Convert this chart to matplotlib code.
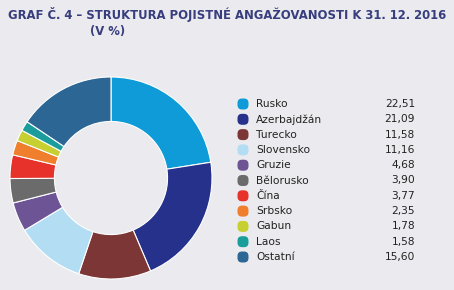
import matplotlib.pyplot as plt
from matplotlib.patches import FancyBboxPatch

# data
countries = ["Rusko", "Azerbajdžán", "Turecko", "Slovensko", "Gruzie", "Bělorusko",
             "Čína", "Srbsko", "Gabun", "Laos", "Ostatní"]
shares = [22.51, 21.09, 11.58, 11.16, 4.68, 3.90, 3.77, 2.35, 1.78, 1.58, 15.60]
colors = ["#0f9bd8", "#25318a", "#7c3636", "#b3ddf3", "#6d5494", "#6b6b6b",
          "#e7312b", "#ef7f2c", "#c7cf31", "#1a9d9b", "#2b6694"]

BG = "#ebebef"
TITLE_COLOR = "#373d7d"
W, H = 454, 290

fig = plt.figure(figsize=(W / 100, H / 100), dpi=100)
fig.patch.set_facecolor(BG)

# donut
cx, cy, r = 111, 178, 101
half = 104
ax = fig.add_axes([(cx - half) / W, (H - cy - half) / H, 2 * half / W, 2 * half / H])
ax.set_facecolor(BG)
ax.pie(shares, colors=colors, startangle=90, counterclock=False, radius=1.0,
       wedgeprops=dict(width=0.44, edgecolor="white", linewidth=0.8))
lim = half / r
ax.set_xlim(-lim, lim)
ax.set_ylim(-lim, lim)
ax.set_aspect("equal")
ax.axis("off")

# title
fig.text(8 / W, 1 - 15 / H, "GRAF Č. 4 – STRUKTURA POJISTNÉ ANGAŽOVANOSTI K 31. 12. 2016",
         fontsize=8.4, fontweight="bold", color=TITLE_COLOR, va="center", ha="left")
fig.text(90 / W, 1 - 31 / H, "(V %)",
         fontsize=8.4, fontweight="bold", color=TITLE_COLOR, va="center", ha="left")

# legend
y0, dy = 104, 15.3
box = 11
for i, (name, val, col) in enumerate(zip(countries, shares, colors)):
    y = y0 + i * dy
    patch = FancyBboxPatch(((243 - box / 2) / W, (H - y - box / 2) / H), box / W, box / H,
                           boxstyle="round,pad=0,rounding_size=0.01",
                           facecolor=col, edgecolor="none", transform=fig.transFigure,
                           mutation_aspect=W / H)
    fig.add_artist(patch)
    fig.text(256 / W, 1 - y / H, name, fontsize=7.7, color="#222222", va="center", ha="left")
    fig.text(415 / W, 1 - y / H, f"{val:.2f}".replace(".", ","), fontsize=7.7,
             color="#222222", va="center", ha="right")

fig.savefig("out.png", dpi=100, facecolor=BG)
